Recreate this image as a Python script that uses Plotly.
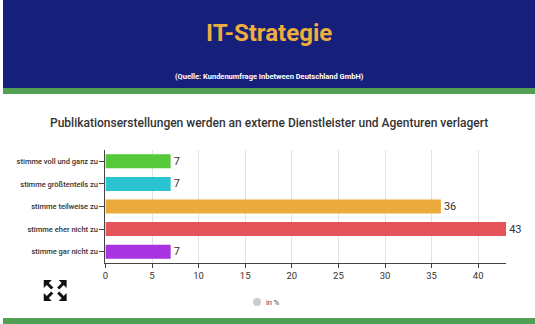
import plotly.graph_objects as go

categories = ["stimme voll und ganz zu", "stimme größtenteils zu", "stimme teilweise zu",
              "stimme eher nicht zu", "stimme gar nicht zu"]
values = [7, 7, 36, 43, 7]
colors = ["#55C93A", "#2AC4D0", "#EBAA3C", "#E4545A", "#A833E0"]
x_ticks = [0, 5, 10, 15, 20, 25, 30, 35, 40]
legend_label = "in %"

W, H = 535, 324
FONT = "Roboto, sans-serif"

def py(p):
    return 1 - p / H

def px(p):
    return p / W

fig = go.Figure()
fig.add_trace(go.Bar(
    y=categories, x=values, orientation="h",
    marker=dict(color=colors, line=dict(width=0)),
    text=[str(v) for v in values], textposition="outside",
    textfont=dict(family=FONT, size=11, color="#333333"),
    cliponaxis=False, showlegend=False, width=0.62,
))

shapes = [
    dict(type="rect", xref="paper", yref="paper", x0=0, x1=1, y0=py(88), y1=1,
         fillcolor="#16207A", line=dict(width=0), layer="below"),
    dict(type="rect", xref="paper", yref="paper", x0=0, x1=1, y0=py(94), y1=py(88),
         fillcolor="#52A055", line=dict(width=0), layer="below"),
    dict(type="rect", xref="paper", yref="paper", x0=0, x1=1, y0=0, y1=py(318),
         fillcolor="#52A055", line=dict(width=0), layer="below"),
    dict(type="circle", xref="paper", yref="paper", x0=px(251.5), x1=px(259.5),
         y0=py(306), y1=py(298), fillcolor="#CCCCCC", line=dict(width=0)),
]

# expand icon (four outward arrows)
for ox, oy, dx, dy in [(41, 280, -1, -1), (64, 280, 1, -1), (41, 301, -1, 1), (64, 301, 1, 1)]:
    tri = "M {} {} L {} {} L {} {} Z".format(
        px(ox), py(oy), px(ox - dx * 8), py(oy), px(ox), py(oy - dy * 8))
    shapes.append(dict(type="path", xref="paper", yref="paper", path=tri,
                       fillcolor="#111111", line=dict(width=0)))
    shapes.append(dict(type="line", xref="paper", yref="paper",
                       x0=px(ox - dx * 3), y0=py(oy - dy * 3),
                       x1=px(ox - dx * 8.5), y1=py(oy - dy * 8.5),
                       line=dict(color="#111111", width=3)))

annotations = [
    dict(text="<b>IT-Strategie</b>", x=0.5, y=py(33), xref="paper", yref="paper",
         showarrow=False, font=dict(family=FONT, size=24, color="#EEAE3E"),
         xanchor="center", yanchor="middle"),
    dict(text="<b>(Quelle: Kundenumfrage Inbetween Deutschland GmbH)</b>", x=0.5, y=py(77),
         xref="paper", yref="paper", showarrow=False,
         font=dict(family=FONT, size=7.5, color="#FFFFFF"), xanchor="center", yanchor="middle"),
    dict(text="Publikationserstellungen werden an externe Dienstleister und Agenturen verlagert",
         x=0.5, y=py(123), xref="paper", yref="paper", showarrow=False,
         font=dict(family=FONT, size=12, color="#333333", weight=500),
         xanchor="center", yanchor="middle"),
    dict(text=legend_label, x=px(262), y=py(302), xref="paper", yref="paper",
         showarrow=False, font=dict(family=FONT, size=7.5, color="#444444"),
         xanchor="left", yanchor="middle"),
]

fig.update_layout(
    width=W, height=H,
    margin=dict(l=0, r=0, t=0, b=0),
    paper_bgcolor="#FFFFFF", plot_bgcolor="#FFFFFF",
    shapes=shapes, annotations=annotations,
    xaxis=dict(domain=[px(103), px(506)], range=[0, 43], tickvals=x_ticks,
               showgrid=True, gridcolor="#E2E2E2", gridwidth=1, zeroline=False,
               showline=True, linecolor="#444444", linewidth=1,
               ticks="outside", ticklen=4, tickcolor="#444444",
               tickfont=dict(family=FONT, size=9.5, color="#333333")),
    yaxis=dict(domain=[py(263), py(150)], autorange="reversed",
               showline=True, linecolor="#444444", linewidth=1,
               ticks="outside", ticklen=5, tickcolor="#444444",
               tickfont=dict(family=FONT, size=7.5, color="#333333", weight=500),
               showgrid=False),
    showlegend=False,
)

fig.write_html("out.html")
